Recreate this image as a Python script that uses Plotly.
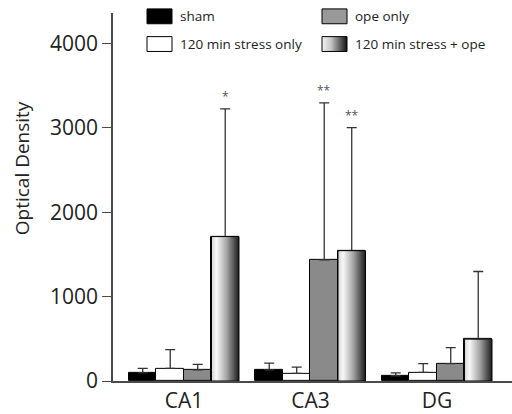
import plotly.graph_objects as go

# ---- data ----
regions = ["CA1", "CA3", "DG"]
series_names = ["sham", "120 min stress only", "ope only", "120 min stress + ope"]
sham = [97, 133, 62]
sham_err = [52, 78, 35]
stress = [149, 90, 102]
stress_err = [223, 74, 105]
ope = [133, 1435, 207]
ope_err = [63, 1861, 188]
combo = [1712, 1545, 496]
combo_err = [1514, 1458, 802]
sig_ope = ["", "**", ""]
sig_combo = ["*", "**", ""]
y_ticks = [0, 1000, 2000, 3000, 4000]
y_title = "Optical Density"

FONT = "Open Sans"
AX = "#4a4a4a"
BW = 0.2174  # bar width in category units
GRAD = [[0, "#d4d4d4"], [0.18, "#f8f8f8"], [0.55, "#a6a6a6"], [1, "#1c1c1c"]]
LEG_GRAD = [[0, "#f2f2f2"], [0.35, "#c8c8c8"], [1, "#111111"]]

xs = list(range(len(regions)))
fig = go.Figure()

vals = [sham, stress, ope, combo]
errs = [sham_err, stress_err, ope_err, combo_err]
fills = ["#000000", "#ffffff", "#8a8a8a", "rgba(0,0,0,0)"]
for i, (v, e, c, n) in enumerate(zip(vals, errs, fills, series_names)):
    fig.add_trace(go.Bar(
        x=xs, y=v, width=BW, offset=(i - 2) * BW, name=n, showlegend=False,
        marker=dict(color=c, line=dict(color="#000000", width=1)),
        error_y=dict(type="data", array=e, arrayminus=[0] * len(e), symmetric=False,
                     color="#333333", thickness=1.3, width=5),
    ))

# gradient fill for the combined series
for g, v in zip(xs, combo):
    x0 = g + 1 * BW
    x1 = x0 + BW
    fig.add_trace(go.Scatter(
        x=[x0, x1, x1, x0, x0], y=[0, 0, v, v, 0], mode="lines", fill="toself",
        fillgradient=dict(type="horizontal", colorscale=GRAD),
        line=dict(color="#000000", width=1), showlegend=False, hoverinfo="skip",
    ))

# significance marks
for i, sig, v, e in [(2, sig_ope, ope, ope_err), (3, sig_combo, combo, combo_err)]:
    for g in xs:
        if sig[g]:
            fig.add_annotation(x=g + (i - 2) * BW + BW / 2, y=v[g] + e[g], text=sig[g],
                               showarrow=False, yanchor="bottom", yshift=2,
                               font=dict(size=12, color="#555555", family=FONT))

# ---- manual legend (pixel coordinates on helper axes) ----
leg_items = [
    (series_names[0], 147, 9, "#000000"),
    (series_names[1], 147, 37, "#ffffff"),
    (series_names[2], 322, 9, "#999999"),
    (series_names[3], 322, 37, None),
]
for name, lx, ly, col in leg_items:
    if col is not None:
        fig.add_shape(type="rect", xref="x2", yref="y2", x0=lx, x1=lx + 25, y0=ly, y1=ly + 15,
                      fillcolor=col, line=dict(color="#000000", width=1))
    else:
        fig.add_trace(go.Scatter(
            x=[lx, lx + 25, lx + 25, lx, lx], y=[ly, ly, ly + 15, ly + 15, ly],
            xaxis="x2", yaxis="y2", mode="lines", fill="toself",
            fillgradient=dict(type="horizontal", colorscale=LEG_GRAD),
            line=dict(color="#000000", width=1), showlegend=False, hoverinfo="skip"))
    fig.add_annotation(x=lx + 31, y=ly + 7.5, xref="x2", yref="y2", text=name,
                       showarrow=False, xanchor="left", yanchor="middle",
                       font=dict(size=13.5, color="#222222", family=FONT))

# y-axis title (paper coords: plot area is x 113..512, y 0..385 px)
fig.add_annotation(x=(22 - 113) / 399, y=(385 - 170) / 385, xref="paper", yref="paper",
                   text=y_title, textangle=-90, showarrow=False,
                   xanchor="center", yanchor="middle",
                   font=dict(size=19, color="#222222", family=FONT))

fig.update_layout(
    width=512, height=414,
    margin=dict(l=113, r=0, t=0, b=29),
    paper_bgcolor="white", plot_bgcolor="rgba(0,0,0,0)",
    font=dict(family=FONT, color="#222222"),
    showlegend=False,
    bargap=0,
    xaxis=dict(range=[-0.561, 2.593], tickvals=xs, ticktext=regions, showgrid=False,
               zeroline=False, showline=True, linecolor=AX, linewidth=1.5, ticks="",
               tickfont=dict(size=21), domain=[0, 1], anchor="y"),
    yaxis=dict(range=[0, 4364], domain=[0, 372 / 385], tickvals=y_ticks, showgrid=False,
               zeroline=False, showline=True, linecolor=AX, linewidth=1.5, ticks="outside",
               ticklen=9, tickcolor=AX, tickwidth=1.3, tickfont=dict(size=21),
               anchor="x"),
    xaxis2=dict(domain=[0, 1], range=[113, 512], visible=False, anchor="y2"),
    yaxis2=dict(domain=[0, 1], range=[385, 0], visible=False, anchor="x2"),
)

fig.write_html("out.html")
